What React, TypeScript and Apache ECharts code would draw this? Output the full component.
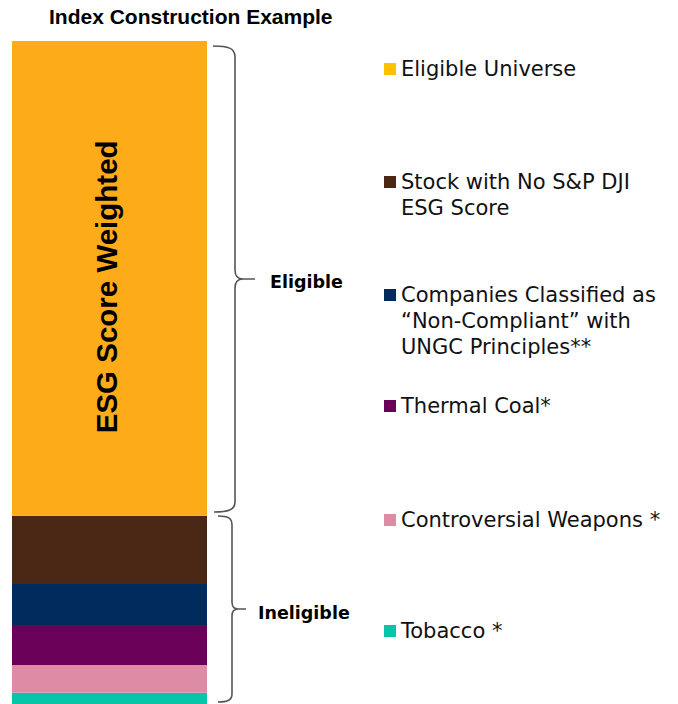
import React, { useEffect, useRef } from "react";
import * as echarts from "echarts";

// Data (stack order: bottom to top)
const categories = ["Index"];
const seriesNames = [
  "Tobacco *",
  "Controversial Weapons *",
  "Thermal Coal*",
  "Companies Classified as “Non-Compliant” with UNGC Principles**",
  "Stock with No S&P DJI ESG Score",
  "Eligible Universe",
];
const legendLabels = [
  "Tobacco *",
  "Controversial Weapons *",
  "Thermal Coal*",
  "Companies Classified as\n“Non-Compliant” with\nUNGC Principles**",
  "Stock with No S&P DJI\nESG Score",
  "Eligible Universe",
];
const values = [1.7, 4.2, 6.0, 6.2, 10.3, 71.6];
const barColors = ["#08C5AA", "#DE8BA5", "#6A0057", "#002B5C", "#4B2815", "#FDAB19"];
const iconColors = ["#08C5AA", "#DE8BA5", "#6A0057", "#002B5C", "#4B2815", "#FFC000"];
const innerLabel = "ESG Score Weighted";
const groupLabels = ["Eligible", "Ineligible"];
const titleText = "Index Construction Example";

// Layout (first-line centre of each legend entry, same order as series)
const legendCenters = [631, 520, 406, 295, 182, 69];
const LH = 26;

const braceEligible =
  "M 213 46 C 228 46 235 48 235 57 L 235 270 C 235 276 237 279 243 279 L 255 279 M 243 279 C 237 279 235 282 235 288 L 235 502 C 235 510 228 512 214 512";
const braceIneligible =
  "M 218 516 C 228 516 232 518 232 525 L 232 602 C 232 606 234 609 238 609 L 246 609 M 238 609 C 234 609 232 612 232 616 L 232 694 C 232 700 228 702 218 702";

export default function App() {
  const ref = useRef<HTMLDivElement>(null);
  useEffect(() => {
    if (!ref.current) return;
    echarts.graphic.registerShape("braceEligible", echarts.graphic.extendPath(braceEligible, {}));
    echarts.graphic.registerShape("braceIneligible", echarts.graphic.extendPath(braceIneligible, {}));
    const chart = echarts.init(ref.current, undefined, { renderer: "svg" });
    const option: any = {
      animation: false,
      backgroundColor: "#ffffff",
      title: {
        text: titleText,
        left: 49,
        top: 6,
        padding: 0,
        textStyle: {
          fontFamily: "'Liberation Sans', Arial, sans-serif",
          fontSize: 21,
          fontWeight: "bold",
          color: "#000",
        },
      },
      grid: { left: 12, top: 41, width: 195, height: 663 },
      xAxis: { type: "category", data: categories, show: false },
      yAxis: { type: "value", min: 0, max: 100, show: false },
      legend: seriesNames.map((name, i) => {
        const n = legendLabels[i].split("\n").length;
        // leading blank lines keep the first text line level with the icon
        const text = "\n".repeat(n - 1) + legendLabels[i];
        return {
          data: [{ name, itemStyle: { color: iconColors[i] } }],
          left: 384,
          top: legendCenters[i] - ((2 * n - 1) * LH) / 2,
          padding: 0,
          itemWidth: 12,
          itemHeight: 12,
          icon: "rect",
          selectedMode: false,
          formatter: () => text,
          textStyle: {
            fontFamily: "DejaVu Sans",
            fontSize: 21,
            color: "#111",
            lineHeight: LH,
          },
        };
      }),
      series: seriesNames.map((name, i) => ({
        name,
        type: "bar",
        stack: "total",
        barWidth: "100%",
        data: [values[i]],
        itemStyle: { color: barColors[i] },
        label:
          i === seriesNames.length - 1
            ? {
                show: true,
                position: "inside",
                rotate: 90,
                offset: [-8.5, -3],
                formatter: innerLabel,
                fontFamily: "Liberation Sans",
                fontSize: 29.5,
                fontWeight: "bold",
                color: "#000",
              }
            : { show: false },
      })),
      graphic: [
        { type: "braceEligible", style: { stroke: "#555", lineWidth: 1.6, fill: null } },
        { type: "braceIneligible", style: { stroke: "#555", lineWidth: 1.6, fill: null } },
        {
          type: "text",
          x: 270,
          y: 282,
          style: {
            text: groupLabels[0],
            fontFamily: "DejaVu Sans",
            fontWeight: "bold",
            fontSize: 17.5,
            fill: "#000",
            verticalAlign: "middle",
          },
        },
        {
          type: "text",
          x: 258,
          y: 613,
          style: {
            text: groupLabels[1],
            fontFamily: "DejaVu Sans",
            fontWeight: "bold",
            fontSize: 17.5,
            fill: "#000",
            verticalAlign: "middle",
          },
        },
      ],
    };
    chart.setOption(option);
    return () => chart.dispose();
  }, []);
  return (
    <div
      ref={ref}
      style={{ position: "fixed", left: 0, top: 0, width: 678, height: 704 }}
    />
  );
}
